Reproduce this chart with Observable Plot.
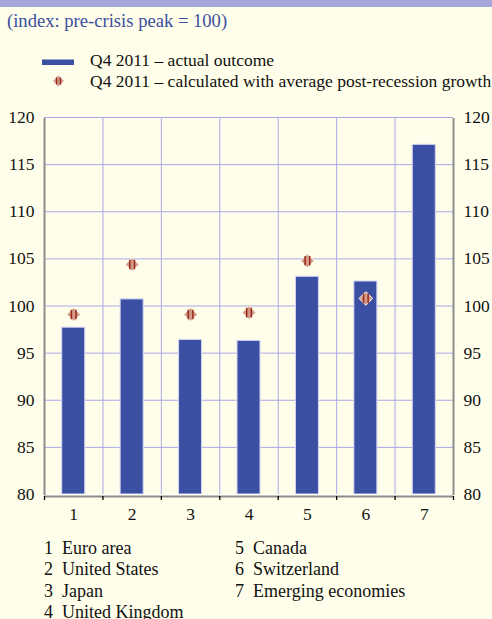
<!DOCTYPE html>
<html>
<head>
<meta charset="utf-8">
<script src="https://cdn.jsdelivr.net/npm/d3@7"></script>
<script src="https://cdn.jsdelivr.net/npm/@observablehq/plot@0.6"></script>
<style>
  html, body { margin: 0; padding: 0; background: #fffeea; }
  #wrap { position: relative; width: 492px; height: 619px; overflow: hidden; background: #fffeea;
          font-family: 'Liberation Serif'; font-size: 17px; color: #111; }
  #wrap div { font-family: 'Liberation Serif'; }
  #strip { position: absolute; left: 0; top: 0; width: 492px; height: 7px; background: #a6a6d8; }
  .abs { position: absolute; white-space: nowrap; line-height: 21px; }
  #subtitle { left: 7px; top: 10px; color: #3c4f9f; font-size: 18.6px; }
  #legend { font-size: 17.5px; }
  #chart { position: absolute; left: 0; top: 100px; }
  .fn { position: absolute; white-space: nowrap; line-height: 21.3px; font-size: 18px; }
  .fn span.n { display: inline-block; width: 18px; }
  svg text { font-family: 'Liberation Serif'; }
</style>
</head>
<body>
<div id="wrap">
  <div id="strip"></div>
  <div class="abs" id="subtitle" style="font-family:'Liberation Serif'">(index: pre-crisis peak = 100)</div>
  <svg class="abs" style="left:0;top:0" width="100" height="100">
    <rect x="42" y="59.5" width="32" height="5.5" fill="#3c50a3"></rect>
    <path d="M58.5,75 L64.5,81 L58.5,87 L52.5,81 Z" fill="#d29b88" stroke="#fff" stroke-width="1"></path>
    <path d="M56.6,77.5 L56.6,84.5 M60.4,77.5 L60.4,84.5" stroke="#9b2a1c" stroke-width="1.4" fill="none"></path>
  </svg>
  <div class="abs" id="legend" style="left:90px; top:50px; font-family:'Liberation Serif'"></div>
  <div id="chart"></div>
  <div class="fn" id="fn1" style="left:44px; top:538px; font-family:'Liberation Serif'"></div>
  <div class="fn" id="fn2" style="left:235px; top:538px; font-family:'Liberation Serif'"></div>
</div>
<script>
// ---- data ----
const categories = [1, 2, 3, 4, 5, 6, 7];
const names = ["Euro area", "United States", "Japan", "United Kingdom", "Canada", "Switzerland", "Emerging economies"];
const actual = [97.7, 100.7, 96.4, 96.3, 103.1, 102.6, 117.1];
const calculated = [99.1, 104.4, 99.1, 99.3, 104.8, 100.8, null];
const yTicks = [80, 85, 90, 95, 100, 105, 110, 115, 120];
const seriesLabels = ["Q4 2011 \u2013 actual outcome", "Q4 2011 \u2013 calculated with average post-recession growth"];

// ---- legend / footnote text ----
document.getElementById("legend").innerHTML = seriesLabels.map(s => `<div>${s}</div>`).join("");
const fnHtml = (idx) => idx.map(i => `<div><span class="n">${categories[i]}</span>${names[i]}</div>`).join("");
document.getElementById("fn1").innerHTML = fnHtml([0, 1, 2, 3]);
document.getElementById("fn2").innerHTML = fnHtml([4, 5, 6]);

// ---- chart ----
const bars = categories.map((c, i) => ({k: c, v: actual[i]}));
const pts = categories.map((c, i) => ({k: c, v: calculated[i]})).filter(d => d.v != null);
const half = 0.5;
const inner = categories.slice(0, -1).map(c => c + half);
const edges = [categories[0] - half, ...categories.map(c => c + half)];
const yMin = yTicks[0], yMax = yTicks[yTicks.length - 1];

const diamondSym = {draw(ctx) { const r = 6.8; ctx.moveTo(0, -r); ctx.lineTo(r, 0); ctx.lineTo(0, r); ctx.lineTo(-r, 0); ctx.closePath(); }};
const stripeSym = {draw(ctx) { ctx.moveTo(-2.3, -4.8); ctx.lineTo(-2.3, 4.8); ctx.moveTo(2.3, -4.8); ctx.lineTo(2.3, 4.8); }};

const grid = "#a9a9e8";
const axisGray = "#8c8c8c";

const chart = Plot.plot({
  width: 492,
  height: 430,
  marginLeft: 44,
  marginRight: 39,
  marginTop: 17,
  marginBottom: 36,
  style: {background: "transparent", fontFamily: "'Liberation Serif'", fontSize: "17.5px", color: "#111"},
  x: {type: "linear", domain: [edges[0], edges[edges.length - 1]]},
  y: {domain: [yMin, yMax]},
  marks: [
    Plot.ruleY(yTicks.slice(1), {stroke: grid, strokeWidth: 1}),
    Plot.ruleX(inner, {y1: yMin, y2: yMax, stroke: grid, strokeWidth: 1}),
    Plot.rectY(bars, {x1: d => d.k - 0.197, x2: d => d.k + 0.197, y1: yMin, y2: "v", fill: "#3c50a3", stroke: "#d6d6f4", strokeWidth: 1}),
    Plot.dot(pts, {x: "k", y: "v", symbol: diamondSym, r: 5, fill: "#d29b88", stroke: "#fffbe8", strokeWidth: 1}),
    Plot.dot(pts, {x: "k", y: "v", symbol: stripeSym, r: 5, fill: "none", stroke: "#9b2a1c", strokeWidth: 1.5}),
    Plot.ruleY([yMin], {stroke: "#ffffff", strokeWidth: 1.2}),
    Plot.ruleY([yMin], {stroke: axisGray, strokeWidth: 2, dy: 2}),
    Plot.ruleX([edges[0], edges[edges.length - 1]], {y1: yMin, y2: yMax, stroke: axisGray, strokeWidth: 2, dy: 1}),
    Plot.axisY(yTicks, {anchor: "left", tickSize: 0, tickPadding: 10, label: null}),
    Plot.axisY(yTicks, {anchor: "right", tickSize: 0, tickPadding: 10, label: null}),
    Plot.axisX(edges, {anchor: "bottom", tickSize: 4, tickFormat: () => "", dy: 2, stroke: "#000", strokeWidth: 1.3, label: null}),
    Plot.axisX(categories, {anchor: "bottom", tickSize: 0, tickPadding: 13, tickFormat: d => String(d), label: null})
  ]
});
document.getElementById("chart").appendChild(chart);
</script>
</body>
</html>
